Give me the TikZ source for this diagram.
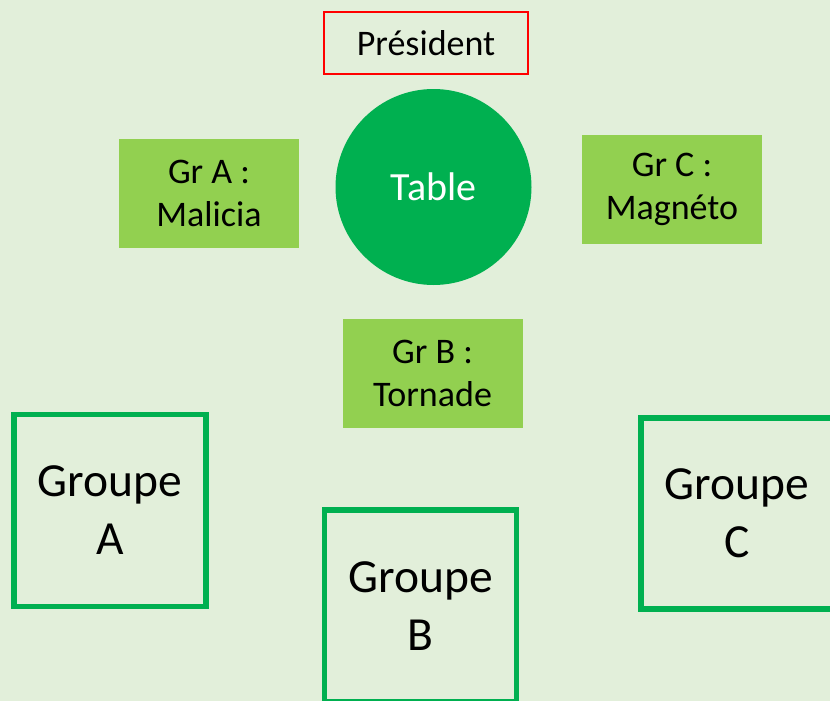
\documentclass[tikz,border=0pt]{standalone}
\usepackage{fontspec}
\setmainfont{Carlito}
\definecolor{bgc}{HTML}{E2EFDA}
\definecolor{lgreen}{HTML}{92D050}
\definecolor{dgreen}{HTML}{00B050}
\definecolor{redc}{HTML}{FF0000}
\begin{document}
\begin{tikzpicture}[x=1pt,y=-1pt,
  grlabel/.style={fill=lgreen, minimum width=180pt, minimum height=109pt, align=center, inner sep=0pt, font=\fontsize{36}{43}\selectfont},
  groupbox/.style={draw=dgreen, line width=5.5pt, minimum width=192pt, minimum height=192pt, align=center, inner sep=0pt, font=\fontsize{47.5}{58}\selectfont}]
\useasboundingbox (0,0) rectangle (830,701);
\clip (0,0) rectangle (830,701);
\fill[bgc] (0,0) rectangle (830,701);
\node[draw=redc, line width=2pt, minimum width=204pt, minimum height=62pt, inner sep=0pt, font=\fontsize{36}{43}\selectfont] (pres) at (426,43) {Président};
\node[circle, fill=dgreen, minimum size=196pt, inner sep=0pt, text=white, font=\fontsize{40}{48}\selectfont] (table) at (433.5,187) {Table};
\node[grlabel] (gra) at (209,193.5) {Gr A :\\Malicia};
\node[grlabel] (grc) at (672,189.5) {Gr C :\\Magnéto};
\node[grlabel] (grb) at (432.5,373.5) {Gr B :\\Tornade};
\node[groupbox] (ga) at (110,510.5) {Groupe\\A};
\node[groupbox] (gb) at (420.5,606) {Groupe\\B};
\node[groupbox, minimum height=191pt] (gc) at (737,513.5) {Groupe\\C};
\end{tikzpicture}
\end{document}
